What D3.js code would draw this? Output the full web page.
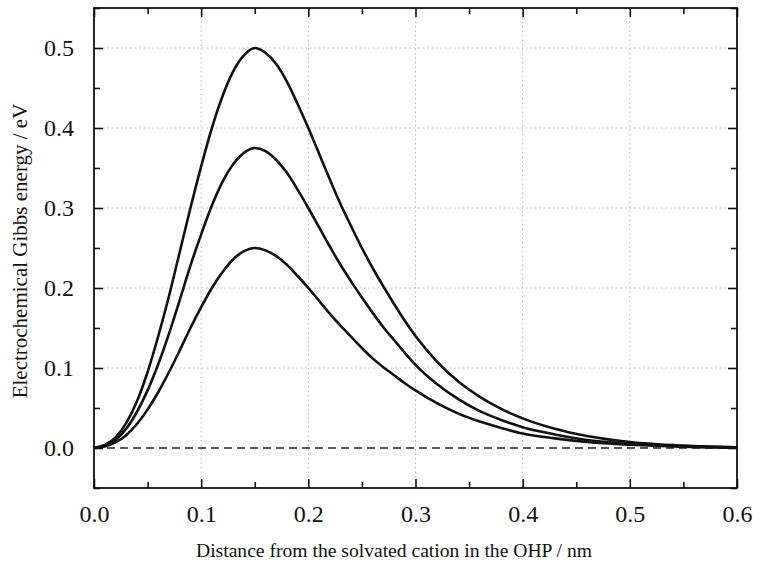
<!DOCTYPE html>
<html>
<head>
<meta charset="utf-8">
<script src="https://cdn.jsdelivr.net/npm/d3@7/dist/d3.min.js"></script>
<style>
  html, body { margin: 0; padding: 0; background: #ffffff; }
  svg { display: block; }
</style>
</head>
<body>
<svg id="chart" width="768" height="570"></svg>
<script>
// ---- data ----
const xTickValues = [0.0, 0.1, 0.2, 0.3, 0.4, 0.5, 0.6];
const yTickValues = [0.0, 0.1, 0.2, 0.3, 0.4, 0.5];
const xMinorTicks = [0.05, 0.15, 0.25, 0.35, 0.45, 0.55];
const yMinorTicks = [-0.05, 0.05, 0.15, 0.25, 0.35, 0.45, 0.55];

// distance (nm)
const distance = [0,0.01,0.02,0.03,0.04,0.05,0.06,0.07,0.08,0.09,
                  0.10,0.11,0.12,0.13,0.14,0.15,0.16,0.17,0.18,0.19,
                  0.20,0.21,0.22,0.23,0.24,0.25,0.26,0.27,0.28,0.29,
                  0.30,0.32,0.34,0.36,0.38,0.40,0.43,0.46,0.50,0.55,0.60];
// energy (eV) for the three curves
const energyHigh = [0,0.004,0.013,0.031,0.058,0.095,0.140,0.190,0.245,0.300,
                    0.352,0.400,0.440,0.471,0.491,0.500,0.494,0.480,0.458,0.430,
                    0.400,0.368,0.336,0.305,0.277,0.250,0.225,0.202,0.180,0.159,
                    0.140,0.108,0.083,0.064,0.049,0.037,0.024,0.015,0.0075,0.003,0.001];
const energyMid  = [0,0.003,0.010,0.024,0.045,0.072,0.105,0.143,0.185,0.228,
                    0.267,0.303,0.333,0.355,0.369,0.375,0.371,0.360,0.344,0.323,
                    0.300,0.276,0.252,0.229,0.208,0.188,0.169,0.151,0.135,0.119,
                    0.104,0.080,0.061,0.046,0.035,0.026,0.017,0.010,0.0055,0.002,0.0008];
const energyLow  = [0,0.002,0.007,0.016,0.030,0.048,0.070,0.095,0.122,0.150,
                    0.176,0.200,0.220,0.236,0.246,0.250,0.247,0.240,0.229,0.215,
                    0.200,0.184,0.168,0.153,0.139,0.125,0.112,0.101,0.091,0.081,
                    0.072,0.056,0.043,0.033,0.025,0.018,0.012,0.0075,0.004,0.0015,0.0005];
const seriesList = [energyHigh, energyMid, energyLow];
const zeroLevel = 0.0;

const xLabel = "Distance from the solvated cation in the OHP / nm";
const yLabel = "Electrochemical Gibbs energy / eV";

// ---- layout ----
const svg = d3.select("#chart");
const pLeft = 94, pRight = 737, pTop = 8, pBottom = 488;
const x = d3.scaleLinear().domain([0, 0.6]).range([pLeft, pRight]);
const y = d3.scaleLinear().domain([-0.05, 0.55]).range([pBottom, pTop]);
const serif = "'Liberation Serif', 'Times New Roman', 'DejaVu Serif', serif";

// grid (dotted)
const grid = svg.append("g").attr("stroke", "#b5b5b5").attr("stroke-width", 1).attr("stroke-dasharray", "1.5,3");
grid.selectAll("line.gx").data(xTickValues.filter(d => d > 0 && d < 0.6)).join("line")
  .attr("class", "gx")
  .attr("x1", d => x(d)).attr("x2", d => x(d)).attr("y1", pTop).attr("y2", pBottom);
grid.selectAll("line.gy").data(yTickValues.filter(d => d > 0)).join("line")
  .attr("class", "gy")
  .attr("x1", pLeft).attr("x2", pRight).attr("y1", d => y(d)).attr("y2", d => y(d));

// axes with inward ticks
const axB = svg.append("g").attr("transform", `translate(0,${pBottom})`)
  .call(d3.axisBottom(x).tickValues(xTickValues).tickSize(-9).tickPadding(17).tickFormat(d3.format(".1f")));
const axBm = svg.append("g").attr("transform", `translate(0,${pBottom})`)
  .call(d3.axisBottom(x).tickValues(xMinorTicks).tickSize(-6).tickFormat(""));
const axT = svg.append("g").attr("transform", `translate(0,${pTop})`)
  .call(d3.axisTop(x).tickValues(xTickValues).tickSize(-9).tickFormat(""));
const axTm = svg.append("g").attr("transform", `translate(0,${pTop})`)
  .call(d3.axisTop(x).tickValues(xMinorTicks).tickSize(-6).tickFormat(""));
const axL = svg.append("g").attr("transform", `translate(${pLeft},0)`)
  .call(d3.axisLeft(y).tickValues(yTickValues).tickSize(-9).tickPadding(20).tickFormat(d3.format(".1f")));
const axLm = svg.append("g").attr("transform", `translate(${pLeft},0)`)
  .call(d3.axisLeft(y).tickValues(yMinorTicks).tickSize(-6).tickFormat(""));
const axR = svg.append("g").attr("transform", `translate(${pRight},0)`)
  .call(d3.axisRight(y).tickValues(yTickValues).tickSize(-9).tickFormat(""));
const axRm = svg.append("g").attr("transform", `translate(${pRight},0)`)
  .call(d3.axisRight(y).tickValues(yMinorTicks).tickSize(-6).tickFormat(""));

[axB, axBm, axT, axTm, axL, axLm, axR, axRm].forEach(g => {
  g.attr("font-family", null).attr("font-size", null);
  g.select(".domain").remove();
  g.selectAll(".tick line").attr("stroke", "#111").attr("stroke-width", 1.6);
  g.selectAll(".tick text").style("font-family", serif).style("font-size", "24px").attr("fill", "#111");
});

// frame
svg.append("rect").attr("x", pLeft).attr("y", pTop).attr("width", pRight - pLeft).attr("height", pBottom - pTop)
  .attr("fill", "none").attr("stroke", "#111").attr("stroke-width", 1.8);

// zero dashed line
svg.append("line").attr("x1", x(0)).attr("x2", x(0.6)).attr("y1", y(zeroLevel)).attr("y2", y(zeroLevel))
  .attr("stroke", "#222").attr("stroke-width", 1.4).attr("stroke-dasharray", "8,5");

// curves
const curveGen = d3.line().x((d, i) => x(distance[i])).y(d => y(d)).curve(d3.curveMonotoneX);
svg.append("g").selectAll("path").data(seriesList).join("path")
  .attr("d", curveGen).attr("fill", "none").attr("stroke", "#111").attr("stroke-width", 2.6)
  .attr("stroke-linejoin", "round");

// labels
svg.append("text").attr("x", 394).attr("y", 557).attr("text-anchor", "middle")
  .style("font-family", serif).style("font-size", "19.6px").attr("fill", "#111").text(xLabel);
svg.append("text").attr("transform", "translate(27,251) rotate(-90)").attr("text-anchor", "middle")
  .style("font-family", serif).style("font-size", "21px").attr("fill", "#111").text(yLabel);
</script>
</body>
</html>
